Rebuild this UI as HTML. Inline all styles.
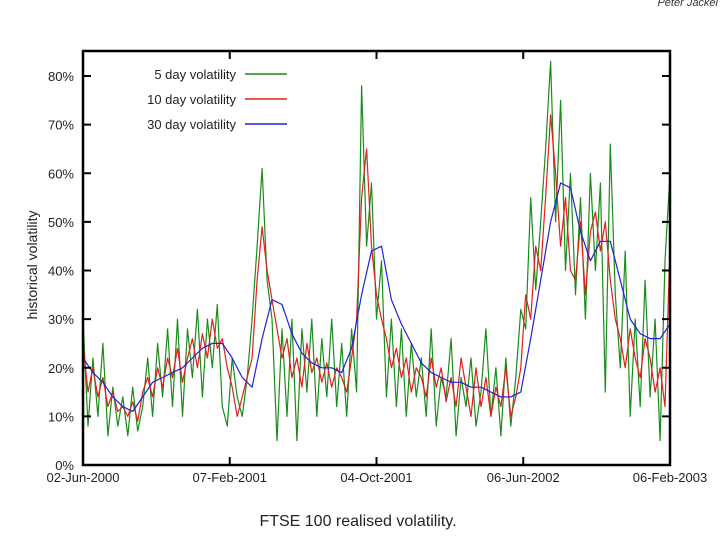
<!DOCTYPE html>
<html><head><meta charset="utf-8"><style>
html,body{margin:0;padding:0;background:#fff;}
svg{display:block;font-family:"Liberation Sans",sans-serif;}
</style></head><body>
<svg id="c" width="720" height="540">
<text x="718" y="6" text-anchor="end" font-size="11" font-style="italic" fill="#333">Peter Jäckel</text>
<g id="plot"></g>
<text x="0" y="0" transform="translate(37,265) rotate(-90)" text-anchor="middle" font-size="14" fill="#222">historical volatility</text>
<text x="358" y="526" text-anchor="middle" font-size="16" fill="#222">FTSE 100 realised volatility.</text>
</svg>
<script>
const yTicks=[0,10,20,30,40,50,60,70,80];
const xTickLabels=["02-Jun-2000","07-Feb-2001","04-Oct-2001","06-Jun-2002","06-Feb-2003"];
const seriesNames=["5 day volatility","10 day volatility","30 day volatility"];
const blue=[22,19,17,14,12,11,14,17,18,19,20,22,24,25,25,22,18,16,26,34,33,27,23,21,20,20,19,24,35,44,45,34,29,25,21,19,18,17,17,16,16,15,14,14,15,26,38,50,58,57,48,42,46,46,38,30,27,26,26,29];
const red=[25,15,20,14,18,12,15,11,12,10,13,9,15,18,14,20,16,22,18,24,17,22,26,20,27,22,30,24,26,20,16,10,14,18,22,38,49,40,34,28,22,26,18,22,16,25,19,22,17,21,16,20,18,15,22,30,55,65,45,35,30,26,20,24,18,22,15,20,18,14,22,16,20,13,18,12,22,16,10,20,12,18,10,16,12,20,10,14,20,35,30,45,40,55,72,60,45,55,40,38,50,35,48,52,44,50,38,30,26,20,28,22,18,26,22,15,20,12,45];
const green=[30,8,22,10,25,6,16,8,14,6,16,7,12,22,10,25,14,28,12,30,10,28,18,32,14,30,20,33,12,8,22,14,10,18,30,45,61,38,30,5,28,10,30,5,28,15,30,10,26,14,30,12,25,10,28,15,78,45,58,30,42,14,30,12,28,10,25,14,22,10,28,8,18,14,26,6,18,12,22,8,15,28,10,20,6,22,8,18,32,28,55,36,50,65,83,50,75,40,60,35,55,30,60,40,58,15,66,35,20,44,10,30,12,38,14,30,5,42,60];
const L=83,R=670,T=51,B=465;
const ys=v=>B-(v/80)*(B-76);
const xs=(i,n)=>L+i*(R-L)/(n-1);
const NS="http://www.w3.org/2000/svg";
const g=document.getElementById('plot');
function mk(t,a){const e=document.createElementNS(NS,t);for(const k in a)e.setAttribute(k,a[k]);g.appendChild(e);return e;}
function line(arr,color,name){
  const d=arr.map((v,i)=>(i?'L':'M')+xs(i,arr.length).toFixed(1)+','+ys(v).toFixed(1)).join('');
  const p=mk('path',{d:d,fill:'none',stroke:color,'stroke-width':1.2,'stroke-linejoin':'round'});
  
  
}
line(green,'#1a8c1a','series-5-day');
line(red,'#e0201a','series-10-day');
line(blue,'#2020e0','series-30-day');
yTicks.forEach(v=>{
  const y=ys(v);
  mk('line',{x1:L,x2:L+8,y1:y,y2:y,stroke:'#000','stroke-width':2});
  mk('line',{x1:R-8,x2:R,y1:y,y2:y,stroke:'#000','stroke-width':2});
  const t=mk('text',{x:L-9,y:y+5,'text-anchor':'end','font-size':13,fill:'#222'});
  t.textContent=v+'%';
  
  
});
xTickLabels.forEach((s,i)=>{
  const x=L+i*(R-L)/(xTickLabels.length-1);
  mk('line',{x1:x,x2:x,y1:B,y2:B-8,stroke:'#000','stroke-width':2});
  mk('line',{x1:x,x2:x,y1:T,y2:T+8,stroke:'#000','stroke-width':2});
  const t=mk('text',{x:x,y:B+17,'text-anchor':'middle','font-size':13,fill:'#222'});
  t.textContent=s;
  
  
});
const fr=mk('rect',{x:L,y:T,width:R-L,height:B-T,fill:'none',stroke:'#000','stroke-width':2.5});


const cols=['#1a8c1a','#e0201a','#2020e0'];
seriesNames.forEach((s,i)=>{
  const y=74+i*25;
  const t=mk('text',{x:236,y:y+5,'text-anchor':'end','font-size':13,fill:'#222'});
  t.textContent=s;
  
  
  mk('line',{x1:245,x2:287,y1:y,y2:y,stroke:cols[i],'stroke-width':1.5});
});
</script>
</body></html>
